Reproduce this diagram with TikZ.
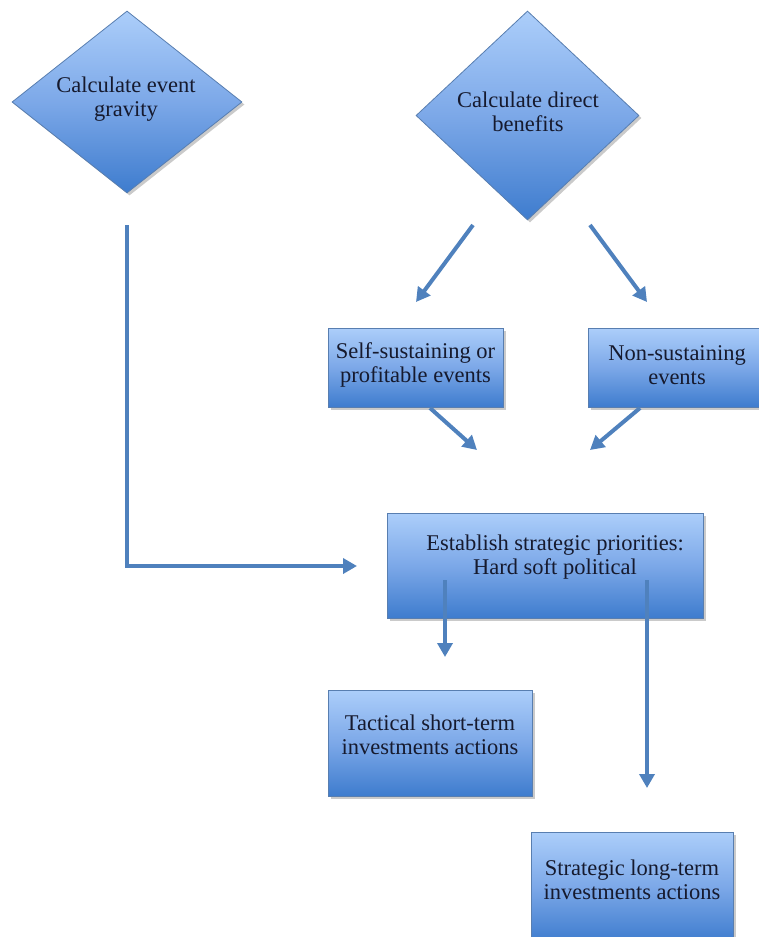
\documentclass[tikz,border=0pt]{standalone}
\usepackage{fontspec}
\setmainfont{Liberation Serif}
\usetikzlibrary{arrows.meta,shapes.geometric,shadows}
\definecolor{arr}{RGB}{79,129,189}
\definecolor{topc}{RGB}{172,206,250}
\definecolor{midc}{RGB}{124,168,232}
\definecolor{botc}{RGB}{62,124,206}
\definecolor{edgec}{RGB}{88,126,176}
\definecolor{txt}{RGB}{22,26,46}
\begin{document}
\begin{tikzpicture}[x=1pt,y=-1pt,
  shapebase/.style={draw=edgec, line width=0.8pt, top color=topc, bottom color=botc, middle color=midc,
    drop shadow={shadow xshift=2.5pt,shadow yshift=-2.5pt,opacity=0.35,fill=black!60}},
  boxnode/.style={shapebase, rectangle, inner sep=0pt},
  dia/.style={shapebase, diamond, inner sep=0pt},
  lbl/.style={text=txt, align=center, inner sep=0pt, font=\fontsize{22.5}{24.5}\selectfont},
  conn/.style={draw=arr, line width=4pt, -{Triangle[length=14pt,width=15pt]}, line join=miter}
]
\useasboundingbox (0,0) rectangle (758,937);

% diamonds
\node[dia, minimum width=230pt, minimum height=182pt] (d1) at (127,102) {};
\node[lbl] (d1t) at (126,99) {Calculate event\\gravity};
\node[dia, minimum width=223pt, minimum height=209pt] (d2) at (527.5,115.5) {};
\node[lbl] (d2t) at (528,112) {Calculate direct\\benefits};

% boxes
\node[boxnode, minimum width=175pt, minimum height=79pt] (self) at (415.5,367.5) {};
\node[lbl] (selft) at (415.5,365) {Self-sustaining or\\profitable events};
\node[boxnode, minimum width=172pt, minimum height=79pt] (non) at (674,367.5) {};
\node[lbl] (nont) at (677,365) {Non-sustaining\\events};
\node[boxnode, minimum width=316pt, minimum height=105pt] (est) at (545,565.5) {};
\node[lbl] (estt) at (555,557) {Establish strategic priorities:\\Hard soft political};
\node[boxnode, minimum width=204pt, minimum height=106pt] (tac) at (430,743) {};
\node[lbl] (tact) at (430,735) {Tactical short-term\\investments actions};
\node[boxnode, minimum width=202pt, minimum height=110pt] (str) at (632,887) {};
\node[lbl] (strt) at (632,880) {Strategic long-term\\investments actions};

% connector end points
\coordinate (a1s) at (127,225);
\coordinate (a1e) at (357,566);
\coordinate (a2s) at (473,225);
\coordinate (a2e) at (416,302);
\coordinate (a3s) at (590,225);
\coordinate (a3e) at (647,302);
\coordinate (a4s) at (430,408);
\coordinate (a4e) at (477,450);
\coordinate (a5s) at (640,408);
\coordinate (a5e) at (590,450);
\coordinate (a6s) at (445,580);
\coordinate (a6e) at (445,657);
\coordinate (a7s) at (647,580);
\coordinate (a7e) at (647,788);

% connectors
\draw[conn] (a1s) |- (a1e);
\draw[conn] (a2s) -- (a2e);
\draw[conn] (a3s) -- (a3e);
\draw[conn] (a4s) -- (a4e);
\draw[conn] (a5s) -- (a5e);
\draw[conn] (a6s) -- (a6e);
\draw[conn] (a7s) -- (a7e);
\end{tikzpicture}
\end{document}
